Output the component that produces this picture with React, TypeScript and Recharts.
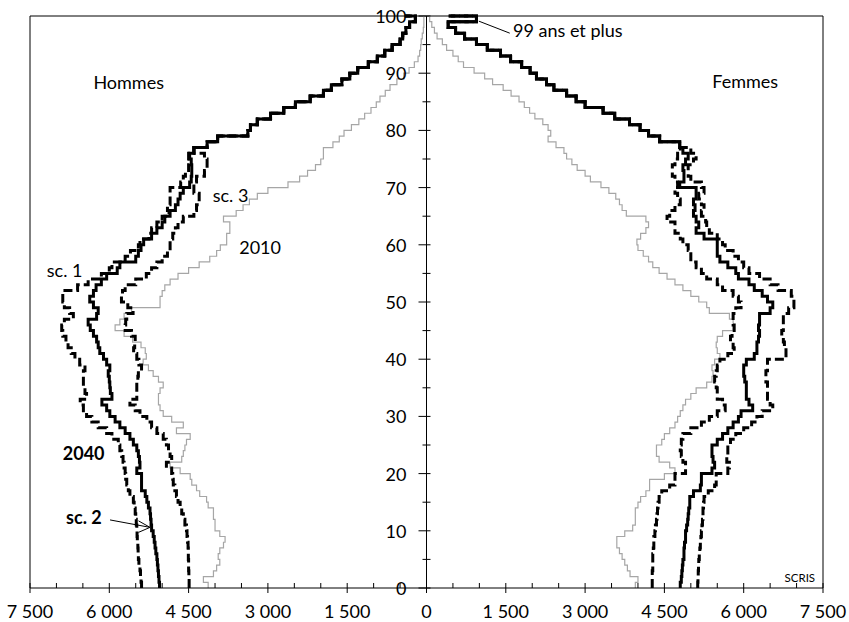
import { LineChart, Line, XAxis, YAxis, ReferenceLine, ReferenceDot } from 'recharts'

// ages 0..99, last row (100) only closes the step line at the top
const ages = Array.from({ length: 101 }, (_, i) => i)

// Hommes (negative side)
const men2010 = [
  -4130, -4220, -4030, -3970, -3910, -3940, -3910, -3840, -3810, -3910,
  -4000, -4000, -4030, -4030, -4130, -4160, -4290, -4350, -4440, -4470,
  -4660, -4850, -4630, -4600, -4570, -4540, -4470, -4730, -4600, -4820,
  -4980, -5040, -5070, -5070, -5040, -4980, -5070, -5170, -5260, -5360,
  -5300, -5320, -5400, -5560, -5720, -5890, -5800, -5720, -5580, -5040,
  -5040, -5000, -4950, -4850, -4700, -4500, -4300, -4100, -3970, -3900,
  -3780, -3780, -3720, -3720, -3840, -3600, -3470, -3350, -3200, -3000,
  -2620, -2400, -2250, -2100, -2000, -1950, -1950, -1770, -1650, -1560,
  -1420, -1280, -1170, -1050, -950, -880, -780, -690, -560, -430,
  -330, -230, -160, -130, -110, -100, -80, -60, -50, -50,
  -50,
]
// 2040, ages 0..75 (scenarios differ)
const menSc1Young = [
  -5390, -5400, -5410, -5420, -5440, -5450, -5455, -5460, -5470, -5475,
  -5480, -5490, -5500, -5510, -5530, -5545, -5610, -5640, -5670, -5690,
  -5700, -5720, -5740, -5765, -5800, -5830, -5950, -6050, -6210, -6330,
  -6430, -6490, -6550, -6430, -6460, -6490, -6490, -6490, -6460, -6560,
  -6650, -6720, -6780, -6820, -6880, -6900, -6850, -6680, -6750, -6850,
  -6880, -6880, -6600, -6400, -6150, -6000, -5950, -5700, -5600, -5450,
  -5420, -5250, -5200, -5100, -5000, -4870, -4900, -4850, -4850, -4850,
  -4650, -4600, -4560, -4500, -4480, -4500,
]
const menSc2Young = [
  -5050, -5060, -5070, -5080, -5090, -5100, -5120, -5135, -5150, -5170,
  -5200, -5210, -5220, -5230, -5260, -5290, -5320, -5390, -5390, -5390,
  -5480, -5420, -5430, -5450, -5480, -5545, -5610, -5700, -5800, -5890,
  -5990, -6050, -6140, -5950, -5980, -5990, -6000, -6020, -5990, -6050,
  -6110, -6180, -6210, -6240, -6300, -6360, -6400, -6240, -6210, -6300,
  -6370, -6300, -6250, -6150, -6050, -5850, -5800, -5500, -5450, -5400,
  -5350, -5200, -5100, -5000, -4950, -4850, -4750, -4700, -4660, -4600,
  -4480, -4450, -4440, -4440, -4450, -4480,
]
const menSc3Young = [
  -4490, -4490, -4495, -4500, -4500, -4505, -4505, -4510, -4520, -4530,
  -4540, -4570, -4600, -4630, -4660, -4700, -4730, -4760, -4790, -4800,
  -4820, -4920, -4820, -4850, -4880, -4920, -4980, -5100, -5200, -5290,
  -5420, -5510, -5610, -5480, -5480, -5480, -5460, -5450, -5390, -5440,
  -5480, -5540, -5520, -5510, -5580, -5700, -5690, -5670, -5550, -5650,
  -5770, -5750, -5700, -5500, -5300, -5200, -5100, -5000, -4900, -4850,
  -4850, -4800, -4750, -4700, -4600, -4400, -4350, -4300, -4300, -4400,
  -4400, -4350, -4200, -4150, -4150, -4200,
]
// 2040, ages 76..100, same for the three scenarios
const menOld2040 = [
  -4400, -4150, -3950, -3380, -3330, -3200, -2950, -2700, -2480, -2200,
  -1950, -1800, -1600, -1450, -1300, -1100, -930, -790, -650, -500,
  -450, -390, -320, -210, -410,
]

// Femmes
const women2010 = [
  3950, 4000, 3850, 3800, 3750, 3700, 3650, 3600, 3600, 3750,
  3900, 3950, 3950, 3950, 4000, 4050, 4150, 4220, 4220, 4500,
  4700, 4600, 4400, 4350, 4350, 4450, 4500, 4600, 4700, 4750,
  4800, 4850, 4900, 5000, 5100, 5300, 5400, 5420, 5400, 5450,
  5550, 5500, 5480, 5500, 5600, 5800, 5800, 5730, 5350, 5300,
  5150, 5000, 4850, 4700, 4550, 4400, 4280, 4200, 4100, 4000,
  3980, 4050, 4150, 4200, 4150, 3780, 3700, 3650, 3580, 3450,
  3300, 3100, 3000, 2850, 2750, 2650, 2600, 2450, 2300, 2350,
  2300, 2200, 2050, 1950, 1850, 1750, 1600, 1450, 1250, 1100,
  900, 700, 600, 500, 380, 300, 200, 150, 100, 60,
  60,
]
// 2040, ages 0..76
const womenSc1Young = [
  5130, 5135, 5140, 5145, 5150, 5160, 5170, 5180, 5190, 5200,
  5210, 5220, 5230, 5230, 5240, 5250, 5330, 5450, 5480, 5480,
  5700, 5730, 5680, 5700, 5700, 5750, 5850, 6000, 6150, 6250,
  6350, 6550, 6500, 6450, 6450, 6450, 6420, 6420, 6450, 6450,
  6800, 6800, 6770, 6750, 6720, 6750, 6750, 6750, 6850, 6950,
  6950, 6900, 6650, 6500, 6300, 6100, 6000, 5900, 5800, 5650,
  5600, 5500, 5350, 5300, 5280, 5200, 5250, 5200, 5150, 5250,
  5200, 5000, 4950, 4950, 5050, 5100, 5000,
]
const womenSc2Young = [
  4800, 4820, 4830, 4840, 4850, 4870, 4870, 4880, 4900, 4900,
  4920, 4940, 4950, 4960, 4980, 4980, 5050, 5180, 5200, 5200,
  5400, 5450, 5420, 5400, 5400, 5500, 5600, 5700, 5800, 5900,
  5950, 6170, 6100, 6050, 6050, 6050, 6020, 6000, 6000, 6050,
  6200, 6250, 6250, 6280, 6300, 6280, 6300, 6300, 6500, 6550,
  6450, 6350, 6200, 6100, 5900, 5850, 5700, 5550, 5500, 5500,
  5500, 5250, 5100, 5150, 5100, 5050, 5080, 5050, 5100, 5100,
  4790, 4870, 4870, 4850, 4900, 4950, 4850,
]
const womenSc3Young = [
  4270, 4270, 4270, 4280, 4280, 4280, 4290, 4300, 4300, 4320,
  4330, 4350, 4360, 4370, 4380, 4400, 4450, 4600, 4700, 4700,
  4900, 4900, 4850, 4820, 4800, 4820, 4850, 5000, 5200, 5350,
  5500, 5650, 5600, 5500, 5500, 5480, 5450, 5480, 5500, 5550,
  5700, 5820, 5800, 5750, 5780, 5820, 5800, 5800, 5850, 5950,
  5900, 5800, 5600, 5500, 5300, 5200, 5100, 5000, 5000, 4950,
  4850, 4800, 4700, 4700, 4550, 4600, 4700, 4800, 4750, 4700,
  4750, 4700, 4650, 4650, 4700, 4750, 4800,
]
// 2040, ages 77..100 (99 = "99 ans et plus")
const womenOld2040 = [
  4790, 4410, 4200, 4040, 3840, 3560, 3340, 3000, 2830, 2650,
  2410, 2270, 2080, 1960, 1800, 1590, 1400, 1150, 945, 720,
  550, 410, 945, 420,
]

const xTicks = [
  -7500, -7000, -6500, -6000, -5500, -5000, -4500, -4000, -3500, -3000, -2500, -2000, -1500, -1000, -500,
  0, 500, 1000, 1500, 2000, 2500, 3000, 3500, 4000, 4500, 5000, 5500, 6000, 6500, 7000, 7500,
]
const yTicks = [0, 5, 10, 15, 20, 25, 30, 35, 40, 45, 50, 55, 60, 65, 70, 75, 80, 85, 90, 95, 100]

const notes = [
  { text: 'Hommes', x: -6301, y: 87.2 },
  { text: 'Femmes', x: 5405, y: 87.4 },
  { text: '99 ans et plus', x: 1637, y: 96.3 },
  { text: 'sc. 3', x: -4045, y: 67.5 },
  { text: '2010', x: -3542, y: 58.4 },
  { text: 'sc. 1', x: -7182, y: 54.3 },
  { text: '2040', x: -6880, y: 22.3, bold: true },
  { text: 'sc. 2', x: -6817, y: 11.2, bold: true },
  { text: 'SCRIS', x: 6772, y: 1.1, size: 11.5 },
]

const men1 = [...menSc1Young, ...menOld2040]
const men2 = [...menSc2Young, ...menOld2040]
const men3 = [...menSc3Young, ...menOld2040]
const women1 = [...womenSc1Young, ...womenOld2040]
const women2 = [...womenSc2Young, ...womenOld2040]
const women3 = [...womenSc3Young, ...womenOld2040]

const rows = ages.map((age, i) => ({
  age,
  m2010: men2010[i], m1: men1[i], m2: men2[i], m3: men3[i],
  w2010: women2010[i], w1: women1[i], w2: women2[i], w3: women3[i],
}))

const FONT = 'Lato, sans-serif'

const fmt = (v: number) => String(Math.abs(v)).replace(/\B(?=(\d{3})+(?!\d))/g, ' ')

function XTick(props: any) {
  const { x, y, payload } = props
  const v = payload.value
  const major = v % 1500 === 0
  return (
    <g>
      <line x1={x} x2={x} y1={y - 5} y2={major ? y + 5 : y} stroke="#000" />
      {major && (
        <text x={x} y={y + 30} textAnchor="middle" fontFamily={FONT} fontSize={18} fill="#000">
          {fmt(v)}
        </text>
      )}
    </g>
  )
}

const gray = { stroke: '#a6a6a6', strokeWidth: 1.2 }
const dashed = { stroke: '#000', strokeWidth: 3, strokeDasharray: '9 4' }
const solid = { stroke: '#000', strokeWidth: 3 }

const series = [
  { key: 'm2010', style: gray },
  { key: 'w2010', style: gray },
  { key: 'm1', style: dashed },
  { key: 'm3', style: dashed },
  { key: 'w1', style: dashed },
  { key: 'w3', style: dashed },
  { key: 'm2', style: solid },
  { key: 'w2', style: solid },
]

export default function App() {
  return (
    <div style={{ position: 'absolute', left: 0, top: 0, background: '#fff' }}>
      <LineChart
        layout="vertical"
        width={849}
        height={622}
        data={rows}
        margin={{ top: 16, right: 26, left: 30, bottom: 4 }}
      >
        <XAxis
          type="number"
          domain={[-7500, 7500]}
          ticks={xTicks}
          interval={0}
          height={30}
          tickSize={0}
          tickMargin={0}
          tickLine={false}
          axisLine={{ stroke: '#000' }}
          tick={<XTick />}
        />
        <YAxis type="number" dataKey="age" domain={[0, 100]} reversed hide />

        <ReferenceLine x={-7500} stroke="#000" ifOverflow="visible" />
        <ReferenceLine x={7500} stroke="#000" ifOverflow="visible" />
        <ReferenceLine y={100} stroke="#000" ifOverflow="visible" />
        <ReferenceLine x={0} stroke="#000" />

        {series.map(s => (
          <Line
            key={s.key}
            dataKey={s.key}
            type="stepBefore"
            dot={false}
            activeDot={false}
            isAnimationActive={false}
            {...s.style}
          />
        ))}

        {yTicks.map(t => (
          <ReferenceDot
            key={'yt' + t}
            x={0}
            y={t}
            r={0}
            ifOverflow="visible"
            shape={(p: any) => (
              <g>
                <line x1={p.cx - (t % 10 === 0 ? 8 : 4)} x2={p.cx + 4} y1={p.cy} y2={p.cy} stroke="#000" />
                {t % 10 === 0 && (
                  <text x={p.cx - 20} y={p.cy + 7} textAnchor="end" fontFamily={FONT} fontSize={18} fill="#000">
                    {t}
                  </text>
                )}
              </g>
            )}
          />
        ))}

        <ReferenceLine segment={[{ x: 990, y: 99.1 }, { x: 1575, y: 97 }]} stroke="#000" strokeWidth={1} />
        <ReferenceLine segment={[{ x: -5986, y: 11.9 }, { x: -5230, y: 10.6 }]} stroke="#000" strokeWidth={1} />
        <ReferenceDot
          x={-5230}
          y={10.6}
          r={0}
          shape={(p: any) => (
            <polyline
              points={`${p.cx - 11.5},${p.cy - 6.5} ${p.cx},${p.cy} ${p.cx - 11.5},${p.cy + 5}`}
              fill="none"
              stroke="#000"
              strokeWidth={1}
            />
          )}
        />

        {notes.map(n => (
          <ReferenceDot
            key={n.text}
            x={n.x}
            y={n.y}
            r={0}
            shape={(p: any) => (
              <text
                x={p.cx}
                y={p.cy}
                fontFamily={FONT}
                fontSize={n.size ?? 18}
                fontWeight={n.bold ? 700 : 400}
                fill="#000"
              >
                {n.text}
              </text>
            )}
          />
        ))}
      </LineChart>
    </div>
  )
}
